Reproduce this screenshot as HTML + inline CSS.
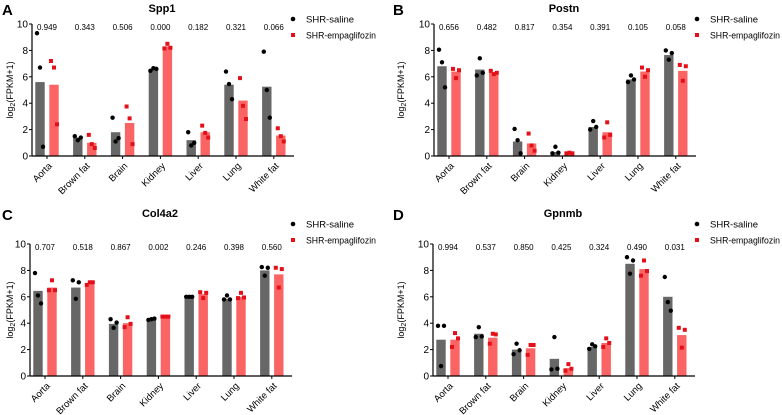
<!DOCTYPE html>
<html><head><meta charset="utf-8"><style>
html,body{margin:0;padding:0;background:#fff}
svg{display:block;font-family:"Liberation Sans",sans-serif}
</style></head><body>
<svg id="fig" width="782" height="415" viewBox="0 0 782 415"></svg>
<script>
const categories=["Aorta","Brown fat","Brain","Kidney","Liver","Lung","White fat"];
const yTicks=[0,2,4,6,8,10];
const titles=["Spp1","Postn","Col4a2","Gpnmb"];
const letters=["A","B","C","D"];
const pA=["0.949","0.343","0.506","0.000","0.182","0.321","0.066"];
const pB=["0.656","0.482","0.817","0.354","0.391","0.105","0.058"];
const pC=["0.707","0.518","0.867","0.002","0.246","0.398","0.560"];
const pD=["0.994","0.537","0.850","0.425","0.324","0.490","0.031"];
const salineBarA=[5.6,1.4,1.8,6.6,1.2,5.4,5.25];
const empaBarA=[5.4,1.0,2.5,8.3,1.8,4.2,1.55];
const salinePtsA=[[9.3,6.7,0.7],[1.5,1.2,1.4],[2.9,1.1,1.35],[6.45,6.65,6.6],[1.8,0.8,1.0],[6.4,5.45,4.3],[7.9,5.0,2.9]];
const empaPtsA=[[7.2,6.7,2.4],[1.6,0.9,0.6],[3.75,2.85,0.9],[8.15,8.5,8.2],[2.3,1.75,1.4],[5.9,3.8,2.8],[2.1,1.5,1.1]];
const salineBarB=[6.8,6.55,1.1,0.3,2.2,5.8,7.65];
const empaBarB=[6.4,6.35,0.95,0.2,1.8,6.4,6.45];
const salinePtsB=[[8.05,7.1,5.2],[6.1,7.4,6.3],[2.05,1.2,0.2],[0.2,0.7,0.25],[2.0,2.65,2.2],[5.6,6.1,5.8],[8.0,7.3,7.8]];
const empaPtsB=[[6.6,5.9,6.5],[6.45,6.2,6.3],[1.7,0.8,0.4],[0.2,0.25,0.2],[1.4,2.55,1.6],[6.7,6.0,6.5],[6.9,5.7,6.8]];
const salineBarC=[6.45,6.7,3.95,4.3,6.0,5.85,8.0];
const empaBarC=[6.7,7.05,4.0,4.5,6.2,6.0,7.7];
const salinePtsC=[[7.8,6.1,5.5],[7.25,5.85,7.1],[4.3,3.65,4.05],[4.25,4.3,4.35],[6.0,6.0,6.0],[5.8,6.1,5.8],[8.25,7.6,8.2]];
const empaPtsC=[[6.5,7.25,6.5],[6.9,7.1,7.1],[3.7,4.45,3.95],[4.5,4.5,4.5],[6.35,5.9,6.3],[5.9,6.3,5.95],[8.2,6.7,8.1]];
const salineBarD=[2.75,3.2,2.0,1.3,2.2,8.5,6.0];
const empaBarD=[2.75,2.9,2.1,0.6,2.5,8.1,3.1];
const salinePtsD=[[3.8,0.75,3.8],[2.95,3.7,3.0],[1.65,2.45,1.95],[0.5,2.95,0.55],[2.05,2.4,2.25],[9.0,7.75,8.75],[7.5,5.6,4.95]];
const empaPtsD=[[2.2,3.25,2.85],[2.45,3.2,3.15],[1.6,2.35,2.35],[0.4,0.9,0.55],[2.2,2.85,2.5],[7.6,8.75,7.95],[3.65,2.15,3.5]];

const panels=[
 {ax:32,top:24,bot:156,ox:0,oy:0,leg:293,p:pA,sb:salineBarA,eb:empaBarA,sp:salinePtsA,ep:empaPtsA},
 {ax:434,top:24,bot:156,ox:391,oy:0,leg:697,p:pB,sb:salineBarB,eb:empaBarB,sp:salinePtsB,ep:empaPtsB},
 {ax:30,top:244,bot:376,ox:0,oy:205,leg:293,p:pC,sb:salineBarC,eb:empaBarC,sp:salinePtsC,ep:empaPtsC},
 {ax:433,top:244,bot:376,ox:391,oy:205,leg:697,p:pD,sb:salineBarD,eb:empaBarD,sp:salinePtsD,ep:empaPtsD}
];
const NS="http://www.w3.org/2000/svg";
const svg=document.getElementById('fig');
function mk(tag,attrs,parent,text){const e=document.createElementNS(NS,tag);for(const k in attrs)e.setAttribute(k,attrs[k]);if(text!==undefined)e.textContent=text;(parent||svg).appendChild(e);return e;}
const step=37.8, off=[-3,0,3];
panels.forEach((P,pi)=>{
 const g=mk('g',{});
 
 
 const y=v=>P.bot-(v/10)*(P.bot-P.top);
 const xs=i=>P.ax+8+i*step;
 const xe=i=>xs(i)+14;
 const l=mk('text',{x:P.ox+2,y:P.oy+15,'font-size':15,'font-weight':'bold'},g,letters[pi]);
 
 const t=mk('text',{x:P.ax+130,y:P.oy+12,'font-size':11,'font-weight':'bold','text-anchor':'middle'},g,titles[pi]);
 
 const yl=mk('text',{transform:`translate(${P.ox+13},${(P.top+P.bot)/2}) rotate(-90)`,'font-size':9,'text-anchor':'middle'},g);
 
 yl.innerHTML='log<tspan font-size="7" dy="2">2</tspan><tspan dy="-2">(FPKM+1)</tspan>';
 categories.forEach((c,i)=>{
  const b1=mk('rect',{x:xs(i)-4.7,y:y(P.sb[i]),width:9.4,height:P.bot-y(P.sb[i]),fill:'#676767'},g);
  
  const b2=mk('rect',{x:xe(i)-4.7,y:y(P.eb[i]),width:9.4,height:P.bot-y(P.eb[i]),fill:'#fa6464'},g);
  
  P.sp[i].forEach((v,k)=>{const d=mk('circle',{cx:xs(i)+off[k],cy:y(v),r:2.2,fill:'#000'},g);
   });
  P.ep[i].forEach((v,k)=>{const d=mk('rect',{x:xe(i)+off[k]-2,y:y(v)-2,width:4,height:4,fill:'#e3101a'},g);
   });
  const pv=mk('text',{x:(xs(i)+xe(i))/2,y:P.top+6,'font-size':8,'text-anchor':'middle'},g,P.p[i]);
  
  const cx=(xs(i)+xe(i))/2;
  mk('line',{x1:cx,x2:cx,y1:P.bot,y2:P.bot+3,stroke:'#000','stroke-width':1},g);
  const cl=mk('text',{transform:`translate(${cx+1},${P.bot+6}) rotate(-45)`,'font-size':9.5,'text-anchor':'end','dominant-baseline':'hanging'},g,c);
  
 });
 const ya=mk('line',{x1:P.ax,x2:P.ax,y1:P.top,y2:P.bot,stroke:'#000','stroke-width':1.2},g);
 
 const xa=mk('line',{x1:P.ax,x2:P.ax+262,y1:P.bot,y2:P.bot,stroke:'#000','stroke-width':1.2},g);
 
 yTicks.forEach(v=>{
  mk('line',{x1:P.ax-3,x2:P.ax,y1:y(v),y2:y(v),stroke:'#000','stroke-width':1},g);
  const tl=mk('text',{x:P.ax-4,y:y(v)+3.5,'font-size':10,'text-anchor':'end'},g,v);
  
 });
 const ly=P.oy+19;
 const lg=mk('g',{},g);
 
 mk('circle',{cx:P.leg,cy:ly,r:2.3,fill:'#000'},lg);
 const lt1=mk('text',{x:P.leg+13,y:ly+3.5,'font-size':9.5},lg,'SHR-saline');
 
 mk('rect',{x:P.leg-2,y:ly+14,width:4,height:4,fill:'#e3101a'},lg);
 const lt2=mk('text',{x:P.leg+13,y:ly+19.5,'font-size':9.5,textLength:70,lengthAdjust:'spacingAndGlyphs'},lg,'SHR-empaglifozin');
 
});
</script>
</body></html>
